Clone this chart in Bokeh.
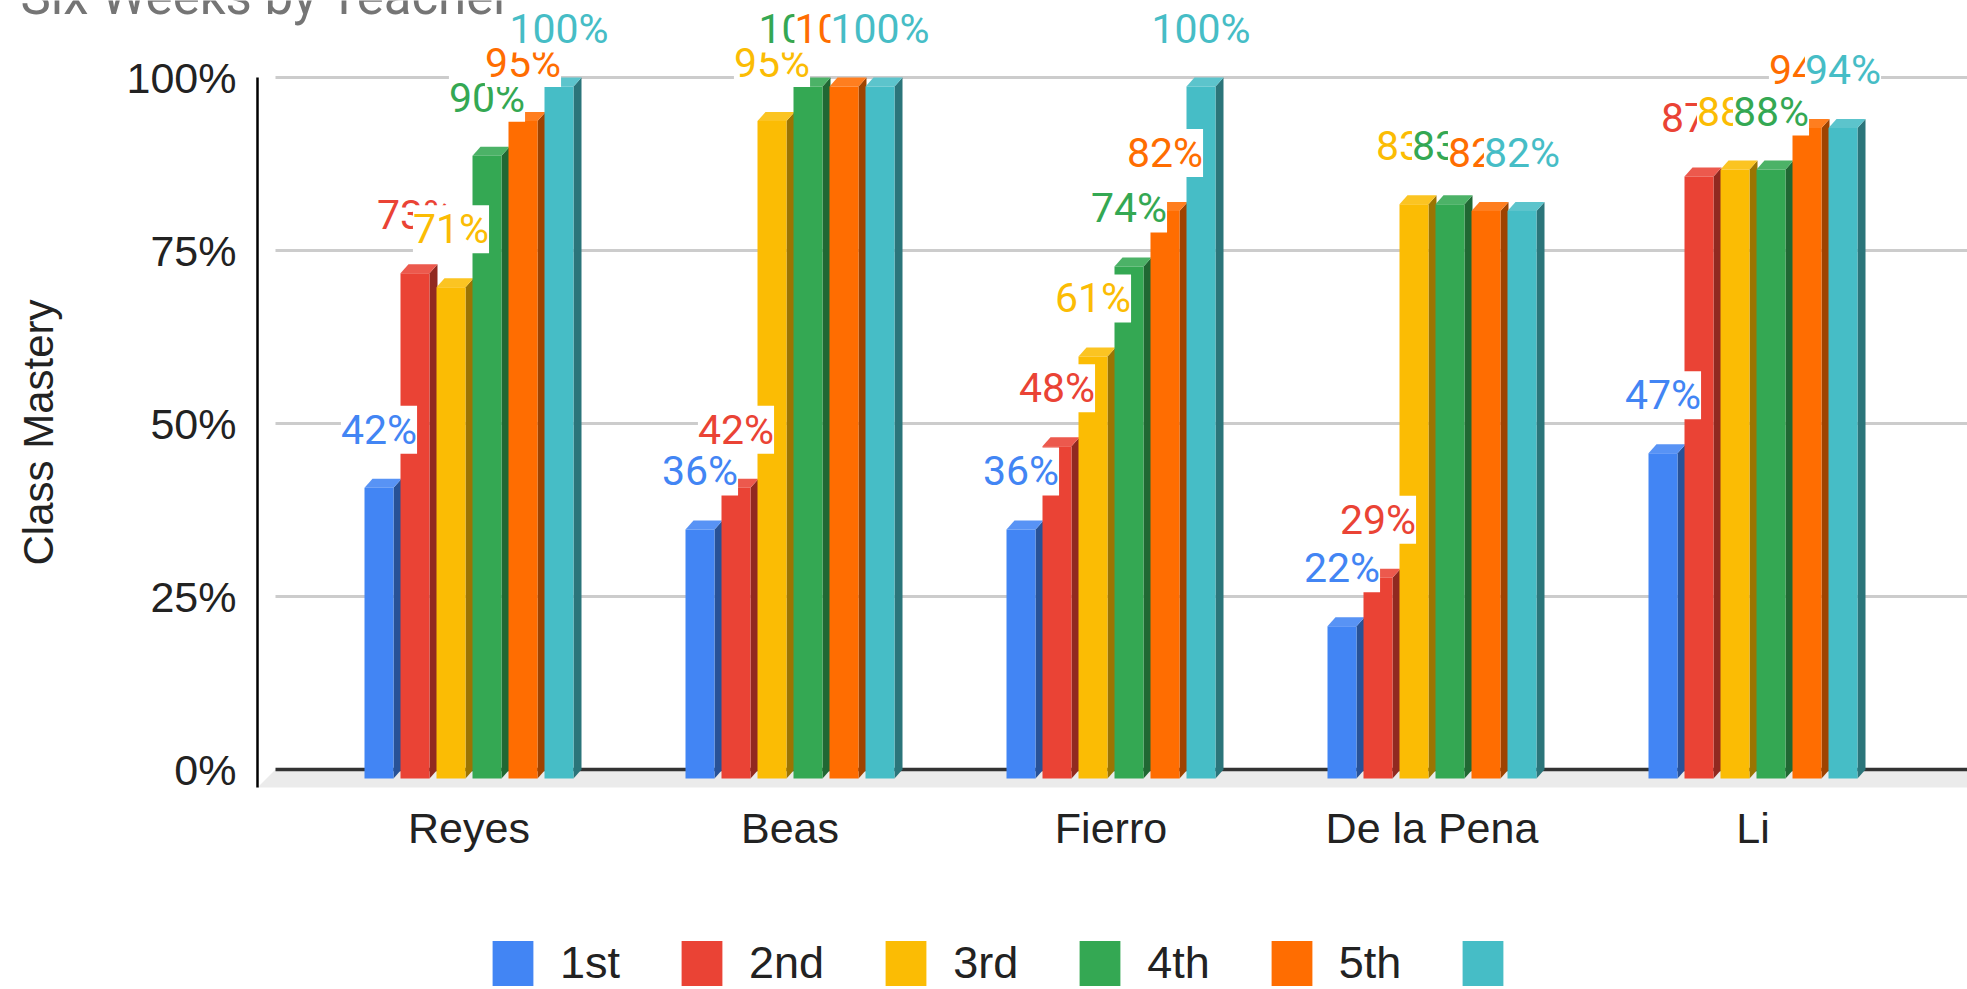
from bokeh.plotting import figure
from bokeh.models import (ColumnDataSource, FixedTicker, LabelSet, Label,
                          Legend, LegendItem, Range1d)
from bokeh.core.properties import value
from bokeh.embed import file_html
from bokeh.resources import INLINE

# ---------------- data ----------------
teachers = ["Reyes", "Beas", "Fierro", "De la Pena", "Li"]
series_names = ["1st", "2nd", "3rd", "4th", "5th", ""]
s1st = [42, 36, 36, 22, 47]
s2nd = [73, 42, 48, 29, 87]
s3rd = [71, 95, 61, 83, 88]
s4th = [90, 100, 74, 83, 88]
s5th = [95, 100, 82, 82, 94]
s6th = [100, 100, 100, 82, 94]
series_values = [s1st, s2nd, s3rd, s4th, s5th, s6th]
colors = ["#4285F4", "#EA4335", "#FBBC04", "#34A853", "#FF6D01", "#46BDC6"]
y_ticks = [0, 25, 50, 75, 100]
title_text = "Six Weeks by Teacher"
y_title = "Class Mastery"

# ---------------- layout (pixels) ----------------
W, H = 1967, 989
AXIS_PX = 257           # column of the y axis line
ZERO_PX = 769           # row of the 0% line (back wall)
GROUP0_PX = 468.5       # column of the first group's centre
PX_X = 321.0            # pixels per category
PX_Y = 6.92             # pixels per percentage point


def fx(px):
    return (px - GROUP0_PX) / PX_X


def fy(py):
    return (ZERO_PX - py) / PX_Y


x_start, x_end = fx(0), fx(W)
y_start, y_end = fy(H), fy(0)
axis_x = fx(AXIS_PX)
floor_front = fy(787)

slot = 36 / PX_X
face = 29 / PX_X
ddx = 8 / PX_X
ddy = 9 / PX_Y
floor_dx = 18 / PX_X
label_gap = 58 / PX_Y


def shade(hexcol, f):
    r, g, b = (int(hexcol[i:i + 2], 16) for i in (1, 3, 5))
    return "#%02x%02x%02x" % tuple(int(max(0, min(255, c * f))) for c in (r, g, b))


def tint(hexcol, t):
    r, g, b = (int(hexcol[i:i + 2], 16) for i in (1, 3, 5))
    return "#%02x%02x%02x" % tuple(int(c + (255 - c) * t) for c in (r, g, b))


p = figure(width=W, height=H,
           x_range=Range1d(x_start, x_end), y_range=Range1d(y_start, y_end),
           output_backend="svg", toolbar_location=None,
           min_border_left=0, min_border_right=0,
           min_border_top=0, min_border_bottom=0)
p.outline_line_color = None
p.background_fill_color = "white"
p.border_fill_color = "white"
p.xgrid.visible = False
p.ygrid.visible = False

# floor
gx0 = axis_x + floor_dx
p.patch([axis_x, gx0, x_end + 1, x_end + 1 - floor_dx],
        [floor_front, 0, 0, floor_front],
        fill_color="#ebebeb", line_color=None)

# gridlines on the back wall
grid_vals = [t for t in y_ticks if t != 0]
p.segment(x0=[gx0] * len(grid_vals), x1=[x_end + 1] * len(grid_vals),
          y0=grid_vals, y1=grid_vals, line_color="#cccccc", line_width=3)
p.segment(x0=[gx0], x1=[x_end + 1], y0=[0], y1=[0],
          line_color="#333333", line_width=3.5)

legend_items = []
for k, (name, vals, col) in enumerate(zip(series_names, series_values, colors)):
    xc = [i + (k - 2.5) * slot for i in range(len(teachers))]
    xl = [c - face / 2 for c in xc]
    xr = [c + face / 2 for c in xc]
    bot = [-ddy] * len(vals)
    top = [v - ddy for v in vals]
    top_xs = [[a, b, b + ddx, a + ddx] for a, b in zip(xl, xr)]
    top_ys = [[t, t, t + ddy, t + ddy] for t in top]
    side_xs = [[b, b + ddx, b + ddx, b] for b in xr]
    side_ys = [[-ddy, 0, t + ddy, t] for t in top]
    p.patches(side_xs, side_ys, fill_color=shade(col, 0.62), line_color=None)
    p.patches(top_xs, top_ys, fill_color=tint(col, 0.12), line_color=None)
    src = ColumnDataSource(dict(x=xc, bottom=bot, top=top))
    r = p.vbar(x="x", width=face, bottom="bottom", top="top", source=src,
               fill_color=col, line_color=None)
    legend_items.append(LegendItem(label=value(name), renderers=[r]))

# data labels, one set per series so later series sit on top
for k, (vals, col) in enumerate(zip(series_values, colors)):
    xc = [i + (k - 2.5) * slot for i in range(len(teachers))]
    lsrc = ColumnDataSource(dict(x=xc, y=[v - ddy + label_gap for v in vals],
                                 text=[f"{v}%" for v in vals]))
    labels = LabelSet(x="x", y="y", text="text", source=lsrc,
                      text_color=col, text_font=value("Roboto"),
                      text_font_size="41px", text_align="center",
                      text_baseline="middle", text_line_height=0.85,
                      background_fill_color="white", background_fill_alpha=1.0)
    p.add_layout(labels)

# axes
p.yaxis.fixed_location = axis_x
p.yaxis.bounds = (floor_front, 100)
p.yaxis.ticker = FixedTicker(ticks=y_ticks)
p.yaxis.major_label_overrides = {t: f"{t}%" for t in y_ticks}
p.yaxis.major_tick_line_color = None
p.yaxis.minor_tick_line_color = None
p.yaxis.major_label_standoff = 15
p.yaxis.axis_line_color = "#000000"
p.yaxis.axis_line_width = 2.5
p.yaxis.major_label_text_font = "Liberation Sans"
p.yaxis.major_label_text_font_size = "43px"
p.yaxis.major_label_text_color = "#222222"
p.yaxis.axis_label = y_title
p.yaxis.axis_label_standoff = 62
p.yaxis.axis_label_text_font = "Liberation Sans"
p.yaxis.axis_label_text_font_size = "42px"
p.yaxis.axis_label_text_font_style = "normal"
p.yaxis.axis_label_text_color = "#222222"

p.xaxis.fixed_location = floor_front
p.xaxis.ticker = FixedTicker(ticks=list(range(len(teachers))))
p.xaxis.major_label_overrides = {i: t for i, t in enumerate(teachers)}
p.xaxis.axis_line_color = None
p.xaxis.major_tick_line_color = None
p.xaxis.minor_tick_line_color = None
p.xaxis.major_label_standoff = 10
p.xaxis.major_label_text_font = "Liberation Sans"
p.xaxis.major_label_text_font_size = "43px"
p.xaxis.major_label_text_color = "#222222"

# title (partly above the visible page, as in the reference)
title = Label(x=fx(20), y=fy(-4), text=title_text, text_font="Roboto",
              text_font_size="51px", text_color="#757575",
              text_baseline="alphabetic", text_align="left")
p.add_layout(title)

legend = Legend(items=legend_items, orientation="horizontal",
                location=(487, -2),
                glyph_width=51, glyph_height=56, label_standoff=22,
                spacing=56, padding=0, margin=0,
                border_line_color=None, background_fill_alpha=0,
                label_text_font="Liberation Sans", label_text_font_size="45px",
                label_text_color="#222222", label_height=56)
p.add_layout(legend, "center")

open("out.html", "w").write(file_html(p, INLINE))
